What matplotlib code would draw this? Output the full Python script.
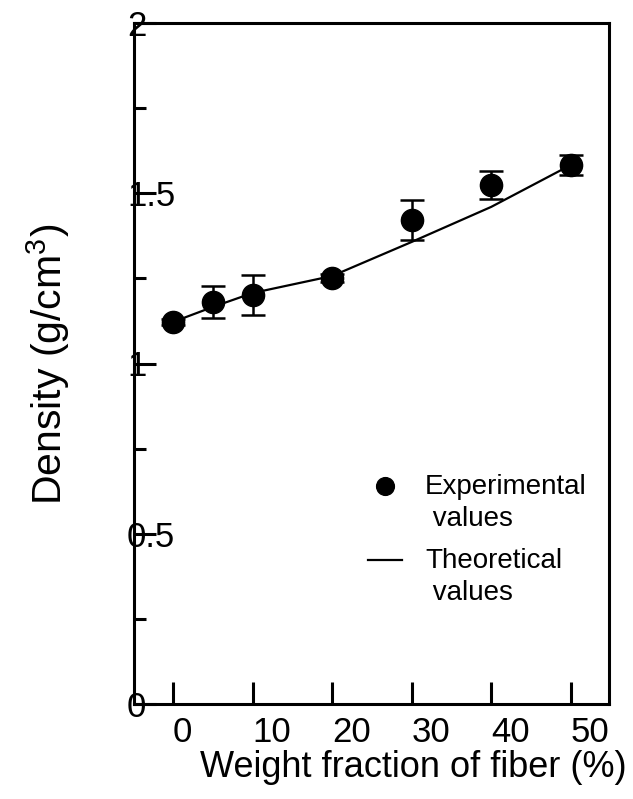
import numpy as np
import matplotlib
matplotlib.use("Agg")
import matplotlib.pyplot as plt
from matplotlib.ticker import FixedLocator, FormatStrFormatter
from matplotlib.legend_handler import HandlerLine2D

plt.rcParams['font.family'] = ['Liberation Sans', 'DejaVu Sans']
plt.rcParams['mathtext.default'] = 'regular'

# experimental densities (g/cm3) with error bars
fiber_pct = [0, 5, 10, 20, 30, 40, 50]
density_exp = [1.122, 1.181, 1.201, 1.251, 1.421, 1.524, 1.583]
density_err = [0.008, 0.047, 0.059, 0.012, 0.058, 0.040, 0.030]

# theoretical curve
theory_pct = [0, 5, 10, 20, 30, 40, 50]
density_theory = [1.122, 1.166, 1.207, 1.257, 1.357, 1.460, 1.583]

y_major = [0, 0.5, 1, 1.5, 2]
y_minor = [0.25, 0.75, 1.25, 1.75]
x_major = [0, 10, 20, 30, 40, 50]

fig = plt.figure(figsize=(6.33, 7.99), dpi=100)
ax = fig.add_axes([134 / 633, 95 / 799, 475 / 633, 681 / 799])

theory_line, = ax.plot(theory_pct, density_theory, color='black', linewidth=1.6, zorder=2,
                       label='Theoretical\n values')
ax.errorbar(fiber_pct, density_exp, yerr=density_err, fmt='none', ecolor='black',
            elinewidth=1.8, capsize=8.3, capthick=1.8, zorder=3)
exp_pts, = ax.plot(fiber_pct, density_exp, 'o', color='black', markersize=16, zorder=4,
                   label='Experimental\n values')

ax.set_xlim(-4.9, 54.8)
ax.set_ylim(0, 2)

ax.xaxis.set_major_locator(FixedLocator(x_major))
ax.yaxis.set_major_locator(FixedLocator(y_major))
ax.yaxis.set_minor_locator(FixedLocator(y_minor))
ax.yaxis.set_major_formatter(FormatStrFormatter('%g'))

for sp in ax.spines.values():
    sp.set_linewidth(2.2)

ax.tick_params(axis='both', which='major', direction='in', length=15.5, width=2.2,
               labelsize=25)
ax.tick_params(axis='y', which='minor', direction='in', length=8.6, width=2.2)
ax.tick_params(axis='x', which='major', pad=9)
ax.tick_params(axis='y', which='major', pad=5)
for lab in ax.get_xticklabels():
    lab.set_horizontalalignment('left')
for lab in ax.get_yticklabels():
    lab.set_horizontalalignment('left')

ax.set_xlabel('Weight fraction of fiber (%)', fontsize=26)
ax.xaxis.set_label_coords(0.587, -0.0675)
fig.text(48 / 633, 1 - 364 / 799, 'Density (g/cm$^3$)', fontsize=29.5, rotation=90,
         ha='center', va='center')


def raise_handle(legend_handle, orig_handle):
    # put the legend symbol level with the first line of its label
    legend_handle.update_from(orig_handle)
    legend_handle.set_ydata(np.asarray(legend_handle.get_ydata()) + 12.5)


hmap = {exp_pts: HandlerLine2D(numpoints=1, update_func=raise_handle),
        theory_line: HandlerLine2D(numpoints=1, update_func=raise_handle)}
leg = ax.legend(handles=[exp_pts, theory_line], handler_map=hmap, loc='upper left',
                bbox_to_anchor=(0.4926, 0.3377), frameon=False, fontsize=20,
                borderpad=0, borderaxespad=0, handlelength=1.22, handletextpad=0.83,
                labelspacing=0.6, markerscale=0.8)
for t in leg.get_texts():
    t.set_linespacing(1.28)

fig.savefig('out.png', dpi=100)
